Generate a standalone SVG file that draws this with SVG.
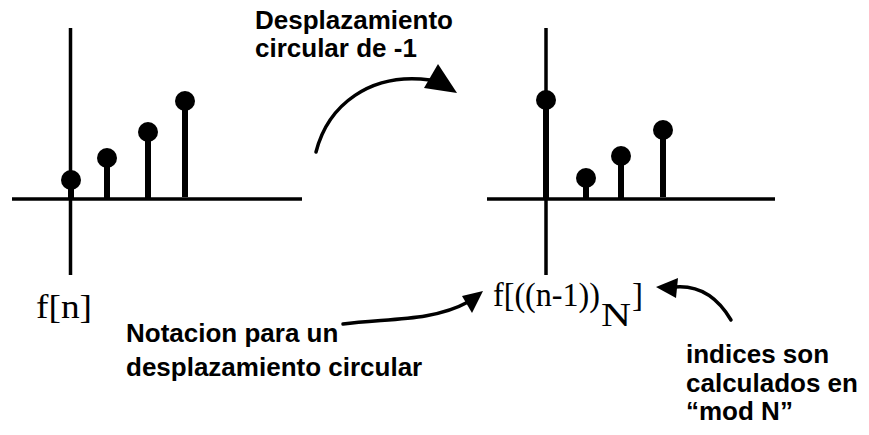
<svg xmlns="http://www.w3.org/2000/svg" width="869" height="435" viewBox="0 0 869 435">
<style>
.axis{stroke:#000;stroke-width:3.5;fill:none}
.stem{stroke:#000;stroke-width:6;fill:none}
.dot{fill:#000}
.bold{font-family:"Liberation Sans",Arial,sans-serif;font-weight:bold;font-size:26px;fill:#000}
.math{font-family:"Liberation Serif","Times New Roman",serif;font-size:33px;fill:#000}
.conn{stroke:#000;stroke-width:3.5;fill:none;stroke-linecap:round}
.head{fill:#000}
</style>
<rect width="869" height="435" fill="#fff"/>
<g id="plot-left">
<line class="axis" x1="70.5" y1="28" x2="70.5" y2="275"/>
<line class="axis" x1="12" y1="199" x2="302" y2="199"/>
<line class="stem" x1="71" y1="180" x2="71" y2="199"/>
<circle class="dot" cx="71" cy="180" r="10"/>
<line class="stem" x1="107" y1="158" x2="107" y2="199"/>
<circle class="dot" cx="107" cy="158" r="10"/>
<line class="stem" x1="148" y1="132" x2="148" y2="199"/>
<circle class="dot" cx="148" cy="132" r="10"/>
<line class="stem" x1="185" y1="101" x2="185" y2="197"/>
<circle class="dot" cx="185" cy="101" r="10"/>
<text class="math" x="36" y="318" textLength="56" lengthAdjust="spacingAndGlyphs">f[n]</text>
</g>
<g id="plot-right">
<line class="axis" x1="546" y1="28" x2="546" y2="275"/>
<line class="axis" x1="487" y1="199" x2="775" y2="199"/>
<line class="stem" x1="546" y1="100" x2="546" y2="199"/>
<circle class="dot" cx="546" cy="100" r="10"/>
<line class="stem" x1="586" y1="178" x2="586" y2="199"/>
<circle class="dot" cx="586" cy="178" r="10"/>
<line class="stem" x1="621" y1="156" x2="621" y2="199"/>
<circle class="dot" cx="621" cy="156" r="10"/>
<line class="stem" x1="663" y1="130" x2="663" y2="197"/>
<circle class="dot" cx="663" cy="130" r="10"/>
<text class="math" x="493" y="306" textLength="107" lengthAdjust="spacingAndGlyphs">f[((n-1))</text>
<text class="math" x="601" y="326" font-size="31" textLength="30" lengthAdjust="spacingAndGlyphs">N</text>
<text class="math" x="632" y="306" textLength="11" lengthAdjust="spacingAndGlyphs">]</text>
</g>
<g id="label-shift">
<text class="bold" x="255" y="29">Desplazamiento</text>
<text class="bold" x="255" y="57">circular de -1</text>
</g>
<g id="label-notation">
<text class="bold" x="126" y="342">Notacion para un</text>
<text class="bold" x="126" y="376">desplazamiento circular</text>
</g>
<g id="label-mod">
<text class="bold" x="686" y="363">indices son</text>
<text class="bold" x="686" y="392">calculados en</text>
<text class="bold" x="686" y="420">“mod N”</text>
</g>
<g id="connectors">
<path class="conn" d="M316,152 C328,105 370,72 430,80"/>
<polygon class="head" points="457,93 424,88 438,64"/>
<path class="conn" d="M343,324 C384,318 432,322 468,302"/>
<polygon class="head" points="483,291 462,296 472,313"/>
<path class="conn" d="M731,320 C718,298 700,285 675,287"/>
<polygon class="head" points="656,287 678,278 676,298"/>
</g>
</svg>
